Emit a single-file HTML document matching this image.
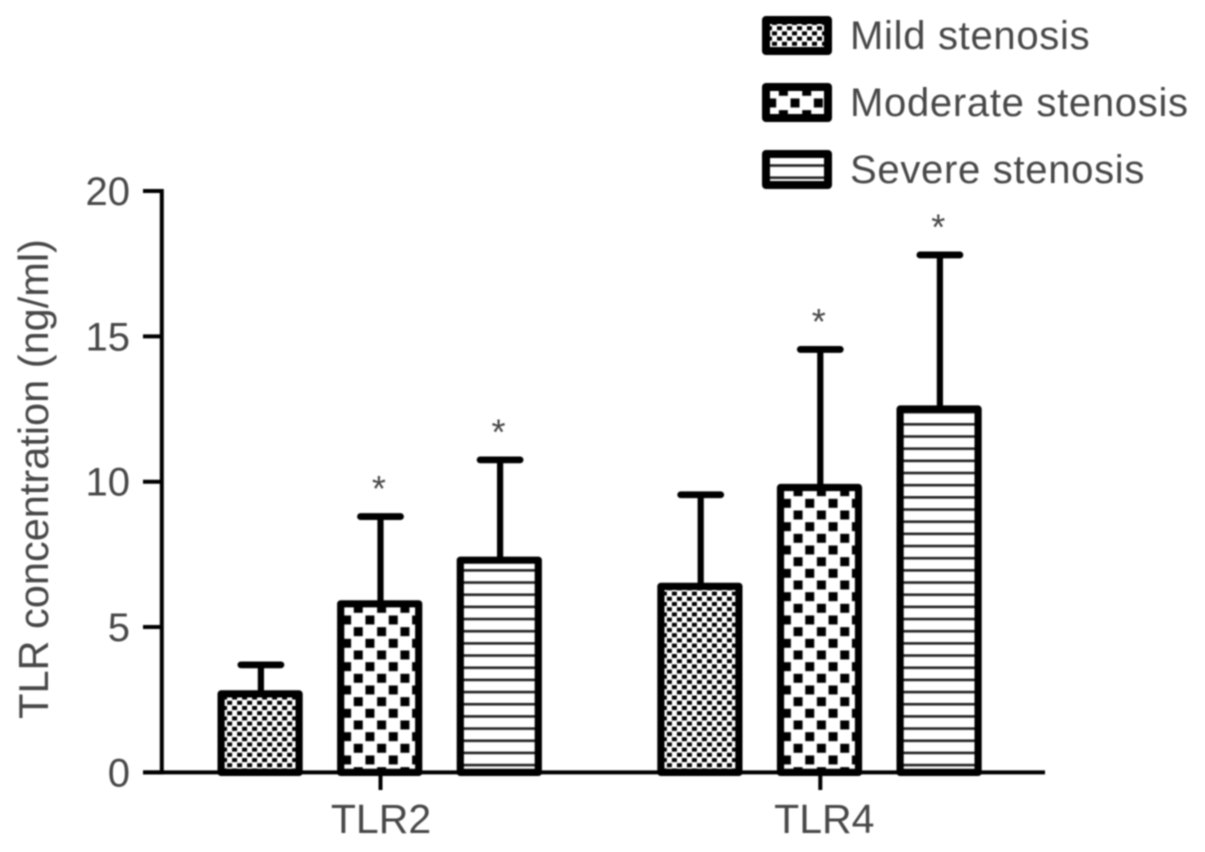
<!DOCTYPE html>
<html lang="en">
<head>
<meta charset="utf-8">
<title>TLR concentration by stenosis severity</title>
<style>
html,body{margin:0;padding:0;background:#fff;width:1205px;height:852px;overflow:hidden}
svg{display:block;filter:blur(0.75px)}
text{font-family:"Liberation Sans",sans-serif;fill:#484848}
</style>
</head>
<body>
<svg id="chart" xmlns="http://www.w3.org/2000/svg" width="1205" height="852" viewBox="0 0 1205 852">
  <defs>
    <pattern id="p-mild" patternUnits="userSpaceOnUse" x="1" y="-4" width="10" height="10.4">
      <rect x="0" y="0" width="5" height="4" fill="#000"/>
      <rect x="5" y="5.2" width="5" height="4" fill="#000"/>
    </pattern>
    <pattern id="p-moderate" patternUnits="userSpaceOnUse" x="1.4" y="-28.6" width="23.33" height="23.33">
      <rect x="0" y="11.67" width="9" height="9" fill="#000"/>
      <rect x="11.67" y="0" width="9" height="9" fill="#000"/>
    </pattern>
    <pattern id="p-moderate-legend" patternUnits="userSpaceOnUse" x="1.2" y="-31.2" width="23.33" height="23.33">
      <rect x="0" y="11.67" width="9" height="9" fill="#000"/>
      <rect x="11.67" y="0" width="9" height="9" fill="#000"/>
    </pattern>
    <pattern id="p-severe" patternUnits="userSpaceOnUse" x="0" y="-8.6" width="20" height="12.17">
      <rect x="0" y="0" width="20" height="2.6" fill="#222"/>
    </pattern>
  </defs>
  <g id="bars"></g>
  <g id="axes"></g>
  <g id="legend"></g>
  <text transform="translate(48,479) rotate(-90)" text-anchor="middle" font-size="41.5">TLR concentration (ng/ml)</text>
</svg>
<script>
const categories = ['TLR2', 'TLR4'];
const seriesNames = ['Mild stenosis', 'Moderate stenosis', 'Severe stenosis'];
const seriesKeys = ['mild', 'moderate', 'severe'];
const mildValues = [2.7, 6.4];
const moderateValues = [5.8, 9.8];
const severeValues = [7.3, 12.5];
const mildErrors = [1.0, 3.15];
const moderateErrors = [3.0, 4.75];
const severeErrors = [3.45, 5.3];
const mildStars = [false, false];
const moderateStars = [true, true];
const severeStars = [true, true];
const yTicks = [0, 5, 10, 15, 20];

const allValues = [mildValues, moderateValues, severeValues];
const allErrors = [mildErrors, moderateErrors, severeErrors];
const allStars = [mildStars, moderateStars, severeStars];

const NS = 'http://www.w3.org/2000/svg';
function mk(parent, tag, attrs, txt) {
  const el = document.createElementNS(NS, tag);
  for (const k in attrs) el.setAttribute(k, attrs[k]);
  if (txt !== undefined) el.textContent = txt;
  parent.appendChild(el);
  return el;
}
const y0 = 772.4, y20 = 191, plotMax = 20;
function yScale(v) { return y0 - (v / plotMax) * (y0 - y20); }
function xScale(catIndex) { return 379.7 + catIndex * 439.8; }
const seriesOffset = 119.6;
const barW = 78, barStroke = 7.2, capW = 40, ink = '#000';

const barsG = document.getElementById('bars');
categories.forEach(function (cat, c) {
  seriesKeys.forEach(function (key, s) {
    const cx = xScale(c) + (s - 1) * seriesOffset;
    const v = allValues[s][c];
    const e = allErrors[s][c];
    const top = yScale(v);
    const h = y0 - top;
    const errTop = yScale(v + e);

    const stem = mk(barsG, 'line', {x1: cx + 0.8, x2: cx + 0.8, y1: top, y2: errTop, stroke: ink, 'stroke-width': 6.2});
    
    

    const cap = mk(barsG, 'line', {x1: cx + 0.8 - capW / 2, x2: cx + 0.8 + capW / 2, y1: errTop, y2: errTop, stroke: ink, 'stroke-width': 6.8, 'stroke-linecap': 'round'});
    
    

    const bar = mk(barsG, 'rect', {
      transform: 'translate(' + (cx - barW / 2) + ',' + y0 + ')',
      x: 0, y: -h, width: barW, height: h,
      fill: '#fff', stroke: 'none'
    });
    
    

    const fill = mk(barsG, 'rect', {
      transform: 'translate(' + (cx - barW / 2) + ',' + y0 + ')',
      x: 0, y: -h, width: barW, height: h,
      fill: 'url(#p-' + key + ')', stroke: ink, 'stroke-width': barStroke, 'stroke-linejoin': 'round'
    });
    
    

    if (allStars[s][c]) {
      const star = mk(barsG, 'text', {x: cx - 0.8, y: errTop - 15.5, 'text-anchor': 'middle', 'font-size': 36}, '*');
      
      
    }
  });
});

const axesG = document.getElementById('axes');
const yAxisLine = mk(axesG, 'line', {x1: 161.8, x2: 161.8, y1: y20 - 2, y2: y0 + 2, stroke: ink, 'stroke-width': 4});


const xAxisLine = mk(axesG, 'line', {x1: 143, x2: 1045, y1: y0, y2: y0, stroke: ink, 'stroke-width': 4});



yTicks.forEach(function (t) {
  const y = yScale(t);
  const tick = mk(axesG, 'line', {x1: 143, x2: 162, y1: y, y2: y, stroke: ink, 'stroke-width': 4});
  
  
  const lab = mk(axesG, 'text', {x: 130, y: y + 14, 'text-anchor': 'end', 'font-size': 40}, String(t));
  
  
});

categories.forEach(function (cat, c) {
  const x = xScale(c) + 0.8;
  const tick = mk(axesG, 'line', {x1: x, x2: x, y1: y0, y2: 790, stroke: ink, 'stroke-width': 4});
  
  
  const lab = mk(axesG, 'text', {x: x + 0.5 + c * 3.5, y: 833, 'text-anchor': 'middle', 'font-size': 41}, cat);
  
  
});

const legendG = document.getElementById('legend');
const legendTops = [16, 83, 150];
const legendFills = ['p-mild', 'p-moderate-legend', 'p-severe'];
seriesNames.forEach(function (name, i) {
  const top = legendTops[i];
  const swatch = mk(legendG, 'rect', {
    transform: 'translate(766,' + (top + 35) + ')',
    x: 0, y: -31, width: 62, height: 31,
    fill: 'url(#' + legendFills[i] + ')', stroke: ink, 'stroke-width': 8, 'stroke-linejoin': 'round'
  });
  
  
  const lab = mk(legendG, 'text', {x: 850, y: top + 33, 'font-size': 40, 'letter-spacing': '0.7'}, name);
  
  
});
</script>
</body>
</html>
